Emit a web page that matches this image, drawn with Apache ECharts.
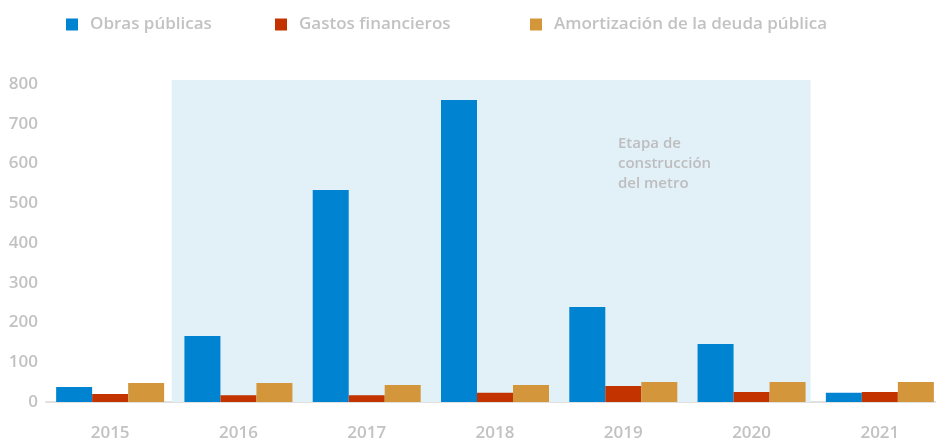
<!DOCTYPE html>
<html>
<head>
<meta charset="utf-8">
<script src="https://cdn.jsdelivr.net/npm/echarts@6/dist/echarts.min.js"></script>
<style>
  html, body { margin: 0; padding: 0; background: #ffffff; }
  #chart { width: 936px; height: 444px; }
</style>
</head>
<body>
<div id="chart"></div>
<script>
// Años
const years = ['2015', '2016', '2017', '2018', '2019', '2020', '2021'];

// Series (millones)
const obrasPublicas = [38, 166, 533, 760, 239, 146, 23];
const gastosFinancieros = [20, 17, 17, 23, 40, 25, 25];
const amortizacionDeuda = [48, 48, 43, 43, 50, 50, 50];

// Eje vertical
const yTicks = [0, 100, 200, 300, 400, 500, 600, 700, 800];

const seriesNames = ['Obras públicas', 'Gastos financieros', 'Amortización de la deuda pública'];
const seriesColors = ['#0083d1', '#c23300', '#d4963a'];

const gray = '#c2c2c2';
const fontFamily = '"Open Sans", "Noto Sans", sans-serif';

const chart = echarts.init(document.getElementById('chart'), null, { renderer: 'canvas' });

const legendLefts = [66, 275, 530];

const option = {
  animation: false,
  backgroundColor: '#ffffff',
  textStyle: { fontFamily: fontFamily },
  legend: seriesNames.map((name, i) => ({
    data: [name],
    left: legendLefts[i],
    top: 16,
    padding: 0,
    icon: 'rect',
    itemWidth: 12,
    itemHeight: 12,
    itemGap: 0,
    textStyle: {
      color: gray,
      fontSize: 17,
      fontWeight: 600,
      fontFamily: fontFamily,
      padding: [0, 0, 0, 7]
    },
    selectedMode: false
  })),
  grid: {
    left: 46,
    width: 898,
    top: 80,
    bottom: 42,
    containLabel: false,
    outerBoundsMode: 'none'
  },
  xAxis: [
    {
      type: 'category',
      data: years,
      axisLine: { show: true, lineStyle: { color: '#e0e0e0', width: 2 } },
      axisTick: { show: false },
      axisLabel: {
        color: gray,
        fontSize: 17,
        fontWeight: 600,
        margin: 23,
        fontFamily: fontFamily
      },
      splitLine: { show: false }
    },
    {
      // helper axis for the construction-period band
      type: 'value',
      min: 0,
      max: years.length,
      show: false
    }
  ],
  yAxis: {
    type: 'value',
    min: yTicks[0],
    max: 810,
    interval: yTicks[1] - yTicks[0],
    axisLine: { show: false },
    axisTick: { show: false },
    splitLine: { show: false },
    axisLabel: {
      color: gray,
      fontSize: 17,
      fontWeight: 600,
      margin: 8,
      showMaxLabel: false,
      fontFamily: fontFamily,
      formatter: (v) => (yTicks.indexOf(v) >= 0 ? String(v) : '')
    }
  },
  series: [
    {
      name: 'Etapa de construcción',
      type: 'line',
      xAxisIndex: 1,
      data: [],
      z: 1,
      silent: true,
      markArea: {
        silent: true,
        itemStyle: { color: '#e2f0f8' },
        label: { show: false },
        data: [[
          { xAxis: 0.98, yAxis: 0 },
          { xAxis: 5.96, yAxis: 810 }
        ]]
      }
    },
    {
      name: seriesNames[0],
      type: 'bar',
      data: obrasPublicas,
      barWidth: 36,
      barGap: '0%',
      itemStyle: { color: seriesColors[0] },
      z: 3
    },
    {
      name: seriesNames[1],
      type: 'bar',
      data: gastosFinancieros,
      barWidth: 36,
      barGap: '0%',
      itemStyle: { color: seriesColors[1] },
      z: 3
    },
    {
      name: seriesNames[2],
      type: 'bar',
      data: amortizacionDeuda,
      barWidth: 36,
      barGap: '0%',
      itemStyle: { color: seriesColors[2] },
      z: 3
    }
  ],
  graphic: [
    {
      type: 'text',
      left: 618,
      top: 134,
      z: 10,
      style: {
        text: 'Etapa de\nconstrucción\ndel metro',
        fill: '#bdbdbd',
        font: '600 15px ' + fontFamily,
        lineHeight: 20
      }
    }
  ]
};

chart.setOption(option);
</script>
</body>
</html>
